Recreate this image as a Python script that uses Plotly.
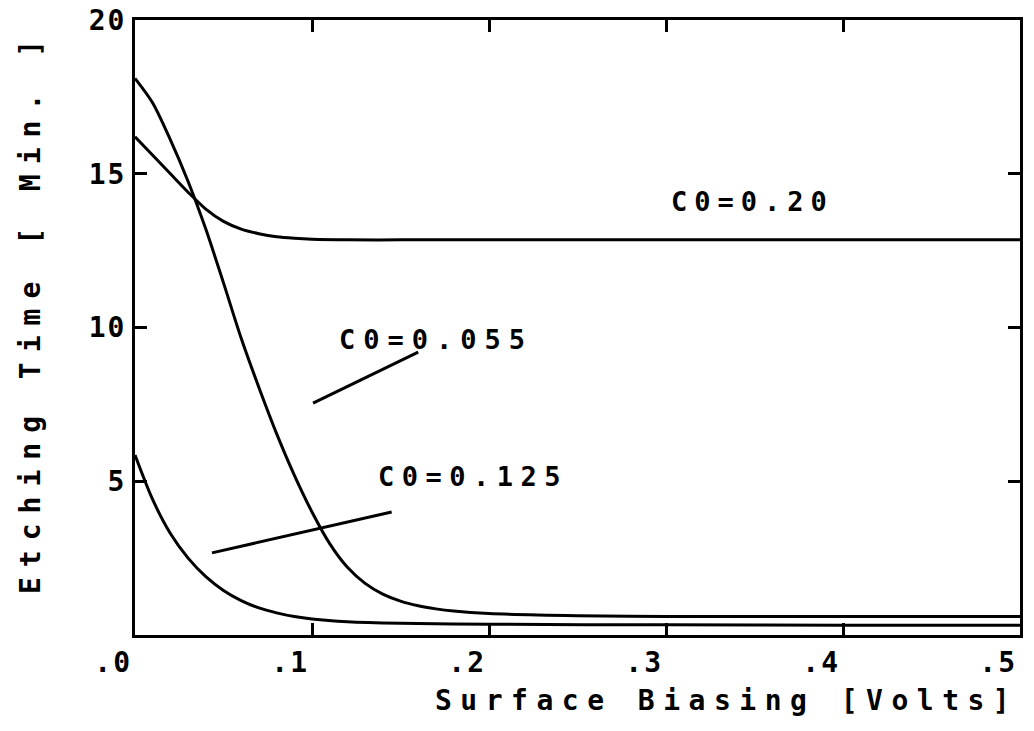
import plotly.graph_objects as go

# ---- data ----
x_c020 = [0, 0.01, 0.02, 0.03, 0.04, 0.05, 0.06, 0.07, 0.08, 0.09, 0.10, 0.12, 0.15, 0.20, 0.30, 0.40, 0.50]
y_c020 = [16.2, 15.6, 15.0, 14.4, 13.85, 13.45, 13.2, 13.05, 12.95, 12.9, 12.87, 12.85, 12.85, 12.85, 12.85, 12.85, 12.85]

x_c0055 = [0, 0.01, 0.02, 0.03, 0.04, 0.05, 0.06, 0.07, 0.08, 0.09, 0.10, 0.11, 0.12, 0.13, 0.14, 0.15, 0.16, 0.17, 0.18, 0.20, 0.25, 0.30, 0.40, 0.50]
y_c0055 = [18.1, 17.3, 16.1, 14.75, 13.2, 11.45, 9.65, 8.05, 6.55, 5.2, 4.0, 2.97, 2.2, 1.68, 1.33, 1.1, 0.95, 0.85, 0.78, 0.7, 0.63, 0.6, 0.6, 0.6]

x_c0125 = [0, 0.01, 0.02, 0.03, 0.04, 0.05, 0.06, 0.07, 0.08, 0.09, 0.10, 0.12, 0.15, 0.20, 0.30, 0.40, 0.50]
y_c0125 = [5.85, 4.4, 3.3, 2.5, 1.9, 1.45, 1.12, 0.88, 0.72, 0.6, 0.52, 0.43, 0.38, 0.35, 0.33, 0.32, 0.32]

series_names = ["C0=0.20", "C0=0.055", "C0=0.125"]

x_ticks = [0, 0.1, 0.2, 0.3, 0.4, 0.5]
x_ticktext = [".0", ".1", ".2", ".3", ".4", ".5"]
y_ticks = [5, 10, 15, 20]
y_ticktext = ["5", "10", "15", "20"]

FONT = "DejaVu Sans Mono"


def spaced(s, px):
    return f'<span style="letter-spacing:{px}px">{s}</span>'


fig = go.Figure()
for xs, ys, nm in zip([x_c020, x_c0055, x_c0125], [y_c020, y_c0055, y_c0125], series_names):
    fig.add_trace(go.Scatter(x=xs, y=ys, mode="lines", name=nm,
                             line=dict(color="black", width=3, shape="spline", smoothing=0.8),
                             showlegend=False))

# labels with leader lines
labels = [
    dict(text="C0=0.20", x=0.349, y=14.1, spacing=7, line=None),
    dict(text="C0=0.055", x=0.170, y=9.6, spacing=8, line=((0.1006, 7.54), (0.160, 9.2))),
    dict(text="C0=0.125", x=0.191, y=5.15, spacing=7.5, line=((0.0435, 2.67), (0.145, 4.0))),
]
for lb in labels:
    fig.add_annotation(x=lb["x"], y=lb["y"], xref="x", yref="y", text=spaced(lb["text"], lb["spacing"]),
                       showarrow=False, font=dict(family=FONT, size=27, color="black", weight="bold"))
    if lb["line"]:
        (x0, y0), (x1, y1) = lb["line"]
        fig.add_shape(type="line", x0=x0, y0=y0, x1=x1, y1=y1, xref="x", yref="y",
                      line=dict(color="black", width=3))

W, H = 1034, 731
ML, MR, MT, MB = 135, 14, 20, 96
pw, ph = W - ML - MR, H - MT - MB

# axis titles as annotations
fig.add_annotation(text=spaced("Surface Biasing [Volts]", 8.5), showarrow=False,
                   xref="paper", yref="paper", x=(726 - ML) / pw, y=(H - MB - 700) / ph,
                   xanchor="center", yanchor="middle",
                   font=dict(family=FONT, size=28, color="black", weight="bold"))
fig.add_annotation(text=spaced("Etching Time [ Min. ]", 10), textangle=-90, showarrow=False,
                   xref="paper", yref="paper", x=(30 - ML) / pw, y=(H - MB - 312) / ph,
                   xanchor="center", yanchor="middle",
                   font=dict(family=FONT, size=28, color="black", weight="bold"))

axis_common = dict(showline=True, linewidth=3, linecolor="black", mirror="ticks",
                   ticks="inside", ticklen=12, tickwidth=3, tickcolor="black",
                   showgrid=False, zeroline=False, automargin=False,
                   tickfont=dict(family=FONT, size=28, color="black", weight="bold"))

fig.update_xaxes(range=[0, 0.5], tickvals=x_ticks,
                 ticktext=[spaced(t, 2) for t in x_ticktext],
                 ticklabeloverflow="allow", ticklabelposition="outside left", **axis_common)
fig.update_yaxes(range=[0, 20], tickvals=y_ticks,
                 ticktext=[spaced(t, 2) for t in y_ticktext], **axis_common)

fig.update_layout(width=W, height=H, plot_bgcolor="white", paper_bgcolor="white",
                  margin=dict(l=ML, r=MR, t=MT, b=MB, autoexpand=False))

fig.write_html("out.html")
